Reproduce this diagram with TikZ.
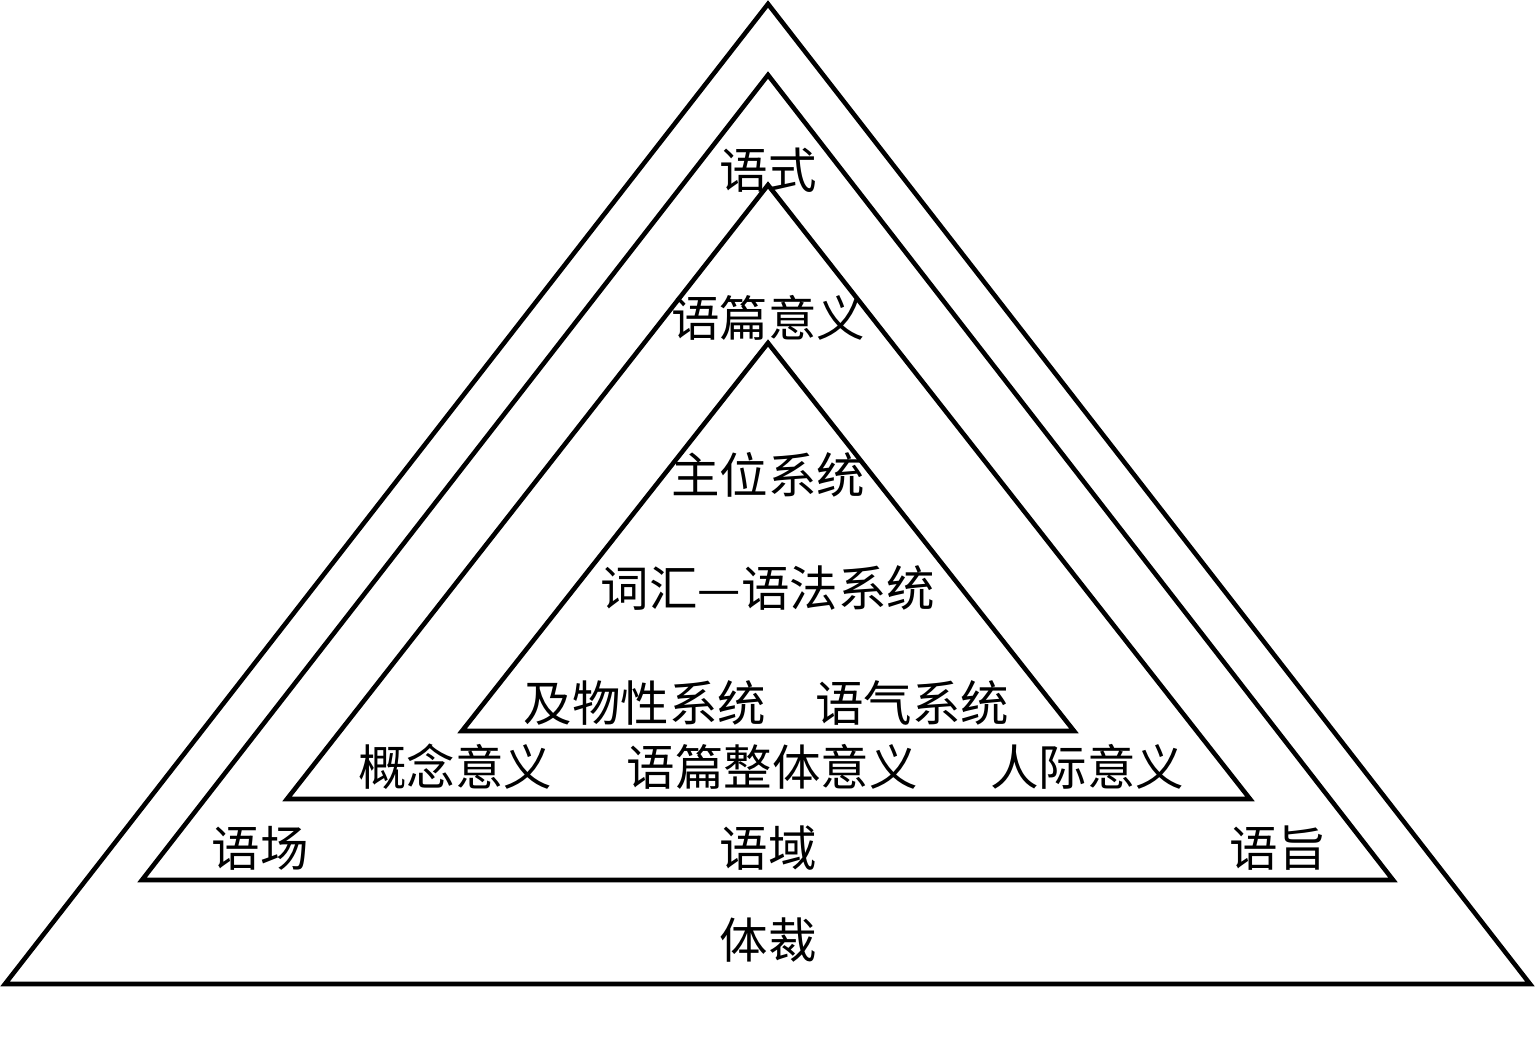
\documentclass[tikz,border=0pt]{standalone}
\usepackage{fontspec}
\newfontfamily\cjk{Noto Sans CJK SC}
\tikzset{
    tri/.style={line width=1.3pt, line join=miter},
    lbl/.style={font=\cjk\fontsize{13.8pt}{15pt}\selectfont, inner sep=0pt}
}
\begin{document}
\begin{tikzpicture}
\useasboundingbox (0,0) rectangle (15.36,10.37);

% genre
    \draw[tri] (7.68,10.33) -- (0.05,0.53) -- (15.30,0.53) -- cycle;
% register
    \draw[tri] (7.68,9.62) -- (1.42,1.57) -- (13.93,1.57) -- cycle;
% discourse meaning
    \draw[tri] (7.68,8.52) -- (2.87,2.38) -- (12.50,2.38) -- cycle;
% lexicogrammar
    \draw[tri] (7.68,6.94) -- (4.62,3.06) -- (10.74,3.06) -- cycle;

% labels
    \node[lbl] (yushi)    at (7.68,8.67) {语式};
    \node[lbl] (yupian)   at (7.68,7.19) {语篇意义};
    \node[lbl] (zhuwei)   at (7.68,5.62) {主位系统};
    \node[lbl] (cihui)    at (7.68,4.49) {词汇—语法系统};
    \node[lbl] (jiwu)     at (6.45,3.34) {及物性系统};
    \node[lbl] (yuqi)     at (9.12,3.34) {语气系统};
    \node[lbl] (gainian)  at (4.55,2.70) {概念意义};
    \node[lbl] (zhengti)  at (7.72,2.70) {语篇整体意义};
    \node[lbl] (renji)    at (10.87,2.70) {人际意义};
    \node[lbl] (yuchang)  at (2.60,1.89) {语场};
    \node[lbl] (yuyu)     at (7.68,1.89) {语域};
    \node[lbl] (yuzhi)    at (12.78,1.89) {语旨};
    \node[lbl] (ticai)    at (7.68,0.97) {体裁};

\end{tikzpicture}
\end{document}
